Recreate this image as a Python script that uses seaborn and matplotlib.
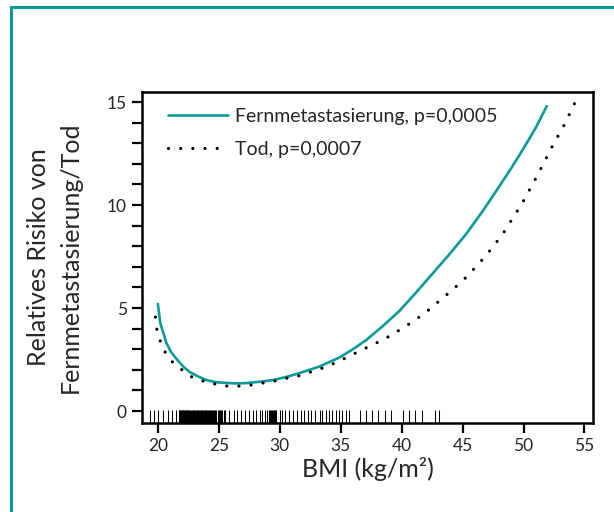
import matplotlib
matplotlib.use("Agg")
import matplotlib.pyplot as plt
import matplotlib.patches as mpatches
from matplotlib.ticker import MultipleLocator
import seaborn as sns
import pandas as pd

# values
bmi_fern = [20.0, 20.2, 20.5, 20.7, 21.1, 21.6, 22.1, 22.6, 23.3, 24.0, 24.8, 25.7,
            26.5, 27.3, 28.3, 29.4, 30.5, 31.6, 33.2, 34.9, 36.0, 37.1, 38.4, 39.8,
            41.1, 42.5, 43.9, 45.3, 46.7, 48.0, 49.0, 50.0, 51.0, 51.9]
rr_fern = [5.2, 4.27, 3.7, 3.3, 2.85, 2.48, 2.15, 1.9, 1.68, 1.5, 1.4, 1.36,
           1.34, 1.36, 1.42, 1.5, 1.65, 1.84, 2.15, 2.6, 3.0, 3.45, 4.1, 4.85,
           5.7, 6.65, 7.6, 8.6, 9.75, 10.9, 11.8, 12.75, 13.75, 14.8]

bmi_tod = [19.8, 19.9, 20.2, 20.6, 21.2, 22.0, 22.8, 23.7, 24.7, 25.7, 26.6, 27.6,
           28.6, 29.6, 30.6, 31.5, 32.5, 33.1, 34.0, 34.9, 36.5, 38.6, 40.3, 41.9,
           43.0, 44.2, 45.3, 46.4, 47.4, 48.3, 49.9, 51.1, 52.4, 53.3, 54.2]
rr_tod = [4.56, 4.0, 3.4, 2.86, 2.38, 1.99, 1.65, 1.46, 1.31, 1.21, 1.21, 1.26,
          1.36, 1.46, 1.6, 1.7, 1.89, 2.0, 2.2, 2.43, 2.9, 3.5, 4.1, 4.75,
          5.3, 5.9, 6.5, 7.2, 7.9, 8.6, 10.1, 11.4, 12.9, 13.85, 14.95]

bmi_rug = [19.35, 19.65, 20.0, 20.4, 20.85, 21.2, 21.5,
           21.7, 21.75, 21.8, 21.85, 21.9, 21.95, 22.0, 22.05, 22.1, 22.15, 22.2, 22.25,
           22.3, 22.35, 22.4, 22.45, 22.5, 22.58, 22.65, 22.7, 22.78, 22.85, 22.9, 22.98,
           23.05, 23.1, 23.18, 23.25, 23.3, 23.38, 23.45, 23.5, 23.58, 23.65, 23.7, 23.78,
           23.85, 23.9, 23.98, 24.05, 24.1, 24.18, 24.25, 24.3, 24.38, 24.45, 24.5, 24.6,
           24.7, 24.8, 24.9, 25.0, 25.1, 25.2, 25.3, 25.4, 25.5,
           25.85, 26.23, 26.5, 26.86, 27.13, 27.48, 27.8, 28.09, 28.36, 28.58, 28.77, 28.96,
           29.1, 29.2, 29.3, 29.4, 29.45, 29.5, 29.55, 29.6, 29.7, 30.0, 30.19, 30.41, 30.76,
           31.09, 31.42, 31.78, 31.97, 32.32, 32.6, 32.87, 33.28, 33.5, 33.77, 34.04, 34.32,
           34.59, 34.86, 35.14, 35.47, 35.68, 36.56, 37.1, 37.6, 38.06, 38.6, 39.16, 40.1,
           40.6, 41.12, 41.7, 42.7, 43.1]

labels = ["Fernmetastasierung, p=0,0005", "Tod, p=0,0007"]
teal = "#0a9b98"

df_fern = pd.DataFrame({"BMI": bmi_fern, "RR": rr_fern})
df_tod = pd.DataFrame({"BMI": bmi_tod, "RR": rr_tod})

sns.set_style("ticks")
plt.rcParams["font.family"] = ["Lato", "DejaVu Sans"]

fig = plt.figure(figsize=(6.14, 5.12), dpi=100)
ax = fig.add_axes([0.2313, 0.1738, 0.7345, 0.6465])

sns.lineplot(data=df_fern, x="BMI", y="RR", color=teal, linewidth=1.9,
             label=labels[0], ax=ax)
sns.lineplot(data=df_tod, x="BMI", y="RR", color="black", linewidth=2.3,
             linestyle=(0, (0.01, 3.8)), dash_capstyle="round",
             label=labels[1], ax=ax)
sns.rugplot(x=bmi_rug, height=0.04, color="black", linewidth=0.75, ax=ax)

ax.set_xlim(18.7, 55.7)
ax.set_ylim(-0.58, 15.49)
ax.set_xticks(range(20, 56, 5))
ax.set_yticks([0, 5, 10, 15])
ax.yaxis.set_minor_locator(MultipleLocator(1))
ax.tick_params(axis="both", which="both", direction="out", length=7, width=1.6,
               color="black", labelsize=12.5, pad=4)
for s in ax.spines.values():
    s.set_linewidth(1.8)
    s.set_color("black")

ax.set_xlabel("BMI (kg/m²)", fontsize=18, labelpad=2)
ax.set_ylabel("Relatives Risiko von\nFernmetastasierung/Tod", fontsize=18,
              labelpad=18, linespacing=1.45)

leg = ax.legend(loc="upper left", bbox_to_anchor=(0.04, 0.975), frameon=False,
                fontsize=14, handlelength=3.1, handletextpad=0.35,
                labelspacing=0.8, borderaxespad=0)

# teal frame around the panel
frame = mpatches.Rectangle((11 / 614, -0.1), 1.2, (512 - 7) / 512 + 0.1,
                           transform=fig.transFigure, fill=False,
                           edgecolor=teal, linewidth=2.2, clip_on=False)
fig.patches.append(frame)

fig.savefig("out.png", dpi=100)
